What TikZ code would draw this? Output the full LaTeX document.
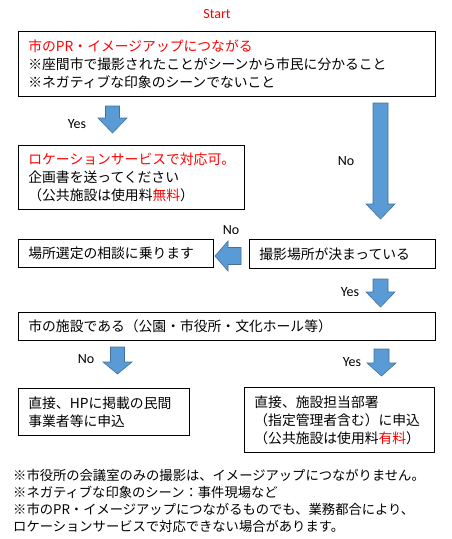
\documentclass[tikz,border=0pt]{standalone}
\usepackage{fontspec}
\newfontfamily\jpfont{Noto Sans CJK JP}
\newfontfamily\lblfont{Carlito}
\usepackage{tikz}
\usetikzlibrary{positioning}
\definecolor{arrowfill}{RGB}{91,155,213}
\definecolor{arrowline}{RGB}{65,113,156}
\tikzset{
  box/.style={draw, line width=0.8pt, anchor=north west, inner xsep=10pt, inner ysep=0pt, align=left, font=\jpfont\fontsize{13.8}{18}\selectfont},
  lbl/.style={inner sep=0pt, font=\lblfont\fontsize{14}{14}\selectfont},
  note/.style={anchor=base west, inner sep=0pt, font=\jpfont\fontsize{13.3}{17}\selectfont},
  blockarrow/.style={fill=arrowfill, draw=arrowline, line width=0.6pt, line join=miter}
}

\begin{document}
\begin{tikzpicture}[x=1pt,y=1pt,yscale=-1,xscale=1]
\useasboundingbox (0,0) rectangle (451,539);

% Text Node
\node[lbl, text=red] (start) at (217,14) {Start};

%Shape: Rectangle
\node[box, minimum width=417pt, minimum height=65pt, text width=397pt] (image) at (18,31) {\textcolor{red}{市のPR・イメージアップにつながる}\\
※座間市で撮影されたことがシーンから市民に分かること\\
※ネガティブな印象のシーンでないこと};
%Shape: Rectangle
\node[box, minimum width=226pt, minimum height=64pt, text width=206pt] (plan) at (18,145) {\textcolor{red}{ロケーションサービスで対応可。}\\
企画書を送ってください\\
（公共施設は使用料\textcolor{red}{無料}）};
%Shape: Rectangle
\node[box, minimum width=195pt, minimum height=28pt, text width=175pt] (consult) at (18,239) {場所選定の相談に乗ります};
%Shape: Rectangle
\node[box, minimum width=186pt, minimum height=29pt, text width=166pt] (place) at (249,239) {撮影場所が決まっている};
%Shape: Rectangle
\node[box, minimum width=417pt, minimum height=28pt, text width=397pt] (facility) at (18,312) {市の施設である（公園・市役所・文化ホール等）};
%Shape: Rectangle
\node[box, minimum width=171pt, minimum height=47pt, text width=151pt] (private) at (18,388) {直接、HPに掲載の民間\\
事業者等に申込};
%Shape: Rectangle
\node[box, minimum width=190pt, minimum height=65pt, text width=170pt] (dept) at (244,387) {直接、施設担当部署\\
（指定管理者含む）に申込\\
（公共施設は使用料\textcolor{red}{有料}）};

%Shape: Down Arrow
\draw[blockarrow] (105.5,106) -- (119.5,106) -- (119.5,118) -- (127,118) -- (112.5,133) -- (98,118) -- (105.5,118) -- cycle ;
%Shape: Down Arrow
\draw[blockarrow] (373,103) -- (388,103) -- (388,204) -- (395,204) -- (380.5,219) -- (366,204) -- (373,204) -- cycle ;
%Shape: Left Arrow
\draw[blockarrow] (241,247.5) -- (241,264.5) -- (228,264.5) -- (228,271) -- (215,256) -- (228,241) -- (228,247.5) -- cycle ;
%Shape: Down Arrow
\draw[blockarrow] (373,279) -- (388,279) -- (388,292) -- (395,292) -- (380.5,307) -- (366,292) -- (373,292) -- cycle ;
%Shape: Down Arrow
\draw[blockarrow] (110.5,347) -- (124.5,347) -- (124.5,362) -- (132,362) -- (117.5,374) -- (103,362) -- (110.5,362) -- cycle ;
%Shape: Down Arrow
\draw[blockarrow] (374,349) -- (389,349) -- (389,363) -- (396,363) -- (381.5,376) -- (367,363) -- (374,363) -- cycle ;

% Text Node
\node[lbl] (yes1) at (77,124) {Yes};
% Text Node
\node[lbl] (no1) at (346,161) {No};
% Text Node
\node[lbl] (no2) at (231,230) {No};
% Text Node
\node[lbl] (yes2) at (350,292) {Yes};
% Text Node
\node[lbl] (no3) at (86,359) {No};
% Text Node
\node[lbl] (yes3) at (352,362) {Yes};

% Text Node
\node[note] (note1) at (13,480) {※市役所の会議室のみの撮影は、イメージアップにつながりません。};
% Text Node
\node[note] (note2) at (13,497) {※ネガティブな印象のシーン：事件現場など};
% Text Node
\node[note] (note3) at (13,514) {※市のPR・イメージアップにつながるものでも、業務都合により、};
% Text Node
\node[note] (note4) at (13,531) {ロケーションサービスで対応できない場合があります。};

\end{tikzpicture}
\end{document}
